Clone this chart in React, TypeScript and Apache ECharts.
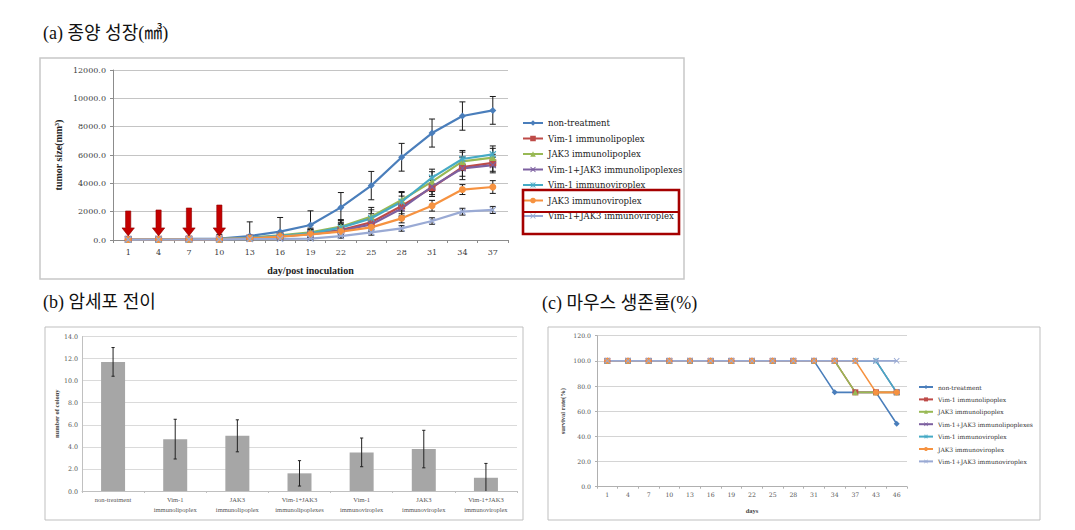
import React, { useEffect, useRef } from 'react';
import * as echarts from 'echarts';

// ---------- shared ----------
const seriesNames = [
  'non-treatment',
  'Vim-1 immunolipoplex',
  'JAK3 immunolipoplex',
  'Vim-1+JAK3 immunolipoplexes',
  'Vim-1 immunoviroplex',
  'JAK3 immunoviroplex',
  'Vim-1+JAK3 immunoviroplex',
];
const seriesColors = ['#4A7EBB', '#BE4B48', '#98B954', '#7D60A0', '#46AAC5', '#F69240', '#9AAAD4'];

// ---------- (a) tumor growth ----------
const tumorDays = ['1', '4', '7', '10', '13', '16', '19', '22', '25', '28', '31', '34', '37'];
const tumorNonTreatment = [60, 70, 80, 100, 280, 590, 1060, 2300, 3840, 5840, 7550, 8750, 9150];
const tumorNonTreatmentErr = [120, 150, 180, 300, 1000, 1000, 1000, 1050, 1000, 980, 990, 1000, 980];
const tumorVim1Lipo = [50, 55, 60, 70, 140, 280, 450, 700, 1250, 2400, 3700, 5150, 5450];
const tumorVim1LipoErr = [40, 50, 60, 80, 150, 200, 280, 450, 600, 700, 500, 650, 600];
const tumorJak3Lipo = [50, 55, 60, 75, 160, 330, 540, 940, 1650, 2820, 4120, 5550, 5820];
const tumorJak3LipoErr = [40, 50, 60, 80, 150, 220, 300, 500, 650, 600, 700, 650, 650];
const tumorVimJakLipo = [50, 55, 60, 70, 130, 260, 420, 640, 1100, 2230, 3770, 5060, 5290];
const tumorVimJakLipoErr = [40, 50, 60, 80, 150, 200, 280, 450, 550, 600, 700, 800, 550];
const tumorVim1Viro = [50, 55, 60, 75, 150, 290, 470, 870, 1530, 2700, 4400, 5720, 6050];
const tumorVim1ViroErr = [40, 50, 60, 80, 150, 200, 300, 500, 600, 650, 600, 600, 590];
const tumorJak3Viro = [40, 45, 50, 60, 120, 240, 400, 590, 890, 1530, 2420, 3560, 3740];
const tumorJak3ViroErr = [30, 40, 50, 60, 100, 150, 200, 250, 300, 320, 380, 350, 450];
const tumorVimJakViro = [30, 35, 40, 50, 70, 80, 100, 280, 540, 820, 1340, 2000, 2120];
const tumorVimJakViroErr = [20, 25, 30, 40, 60, 80, 100, 150, 200, 200, 230, 240, 250];
const tumorYTicks = [0, 2000, 4000, 6000, 8000, 10000, 12000];
const arrowDays = ['1', '4', '7', '10'];
const arrowTopValues = [2050, 2120, 2260, 2470];
const arrowTipValues = [290, 290, 290, 290];

// ---------- (b) metastasis ----------
const colonyCategories = [
  'non-treatment',
  'Vim-1\nimmunolipoplex',
  'JAK3\nimmunolipoplex',
  'Vim-1+JAK3\nimmunolipoplexes',
  'Vim-1\nimmunoviroplex',
  'JAK3\nimmunoviroplex',
  'Vim-1+JAK3\nimmunoviroplex',
];
const colonyValues = [11.7, 4.7, 5.0, 1.6, 3.5, 3.8, 1.2];
const colonyErrors = [1.3, 1.8, 1.45, 1.15, 1.3, 1.7, 1.3];
const colonyYTicks = [0, 2, 4, 6, 8, 10, 12, 14];

// ---------- (c) survival ----------
const survivalDays = ['1', '4', '7', '10', '13', '16', '19', '22', '25', '28', '31', '34', '37', '43', '46'];
const survNonTreatment = [100, 100, 100, 100, 100, 100, 100, 100, 100, 100, 100, 75, 75, 75, 50];
const survVim1Lipo = [100, 100, 100, 100, 100, 100, 100, 100, 100, 100, 100, 100, 75, 75, 75];
const survJak3Lipo = [100, 100, 100, 100, 100, 100, 100, 100, 100, 100, 100, 100, 75, 75, 75];
const survVimJakLipo = [100, 100, 100, 100, 100, 100, 100, 100, 100, 100, 100, 100, 100, 100, 75];
const survVim1Viro = [100, 100, 100, 100, 100, 100, 100, 100, 100, 100, 100, 100, 100, 100, 75];
const survJak3Viro = [100, 100, 100, 100, 100, 100, 100, 100, 100, 100, 100, 100, 100, 75, 75];
const survVimJakViro = [100, 100, 100, 100, 100, 100, 100, 100, 100, 100, 100, 100, 100, 100, 100];
const survivalYTicks = [0, 20, 40, 60, 80, 100, 120];

const X_PATH = 'path://M0,1.2L1.2,0L5,3.8L8.8,0L10,1.2L6.2,5L10,8.8L8.8,10L5,6.2L1.2,10L0,8.8L3.8,5Z';
const STAR_PATH = 'path://M0,1.2L1.2,0L4.4,3.2V0H5.6V3.2L8.8,0L10,1.2L6.2,5L10,8.8L8.8,10L5.6,6.8V10H4.4V6.8L1.2,10L0,8.8L3.8,5Z';
const seriesSymbols = ['diamond', 'rect', 'triangle', X_PATH, STAR_PATH, 'circle', X_PATH];

const SERIF = "'DejaVu Serif', 'Liberation Serif', serif";
const TNR = "'Liberation Serif', serif";
const KR = "'Liberation Serif', 'Noto Sans CJK KR', sans-serif";

function errorRenderer(capHalf: number, color: string) {
  return (params: any, api: any) => {
    const x = api.value(0);
    const v = api.value(1);
    const e = api.value(2);
    const lo = Math.max(0, v - e);
    const hi = v + e;
    const pHi = api.coord([x, hi]);
    const pLo = api.coord([x, lo]);
    const style = { stroke: color, lineWidth: 1 };
    const children: any[] = [
      { type: 'line', shape: { x1: pHi[0], y1: pHi[1], x2: pLo[0], y2: pLo[1] }, style },
      { type: 'line', shape: { x1: pHi[0] - capHalf, y1: pHi[1], x2: pHi[0] + capHalf, y2: pHi[1] }, style },
    ];
    if (v - e >= 0) {
      children.push({ type: 'line', shape: { x1: pLo[0] - capHalf, y1: pLo[1], x2: pLo[0] + capHalf, y2: pLo[1] }, style });
    }
    return { type: 'group', children };
  };
}

function arrowRenderer(params: any, api: any) {
  const x = api.value(0);
  const pTop = api.coord([x, api.value(1)]);
  const pTip = api.coord([x, api.value(2)]);
  const cx = pTop[0];
  const hw = 2.6;
  const headHw = 6.2;
  const headH = 8;
  const yT = pTop[1];
  const yP = pTip[1];
  return {
    type: 'polygon',
    shape: {
      points: [
        [cx - hw, yT], [cx + hw, yT], [cx + hw, yP - headH], [cx + headHw, yP - headH],
        [cx, yP], [cx - headHw, yP - headH], [cx - hw, yP - headH],
      ],
    },
    style: { fill: '#C40000', stroke: '#8E0000', lineWidth: 0.6 },
  };
}

function buildOption(): any {
  const tumorData = [tumorNonTreatment, tumorVim1Lipo, tumorJak3Lipo, tumorVimJakLipo, tumorVim1Viro, tumorJak3Viro, tumorVimJakViro];
  const tumorErr = [tumorNonTreatmentErr, tumorVim1LipoErr, tumorJak3LipoErr, tumorVimJakLipoErr, tumorVim1ViroErr, tumorJak3ViroErr, tumorVimJakViroErr];
  const survData = [survNonTreatment, survVim1Lipo, survJak3Lipo, survVimJakLipo, survVim1Viro, survJak3Viro, survVimJakViro];

  const tumorErrPoints: any[] = [];
  tumorData.forEach((arr, s) => arr.forEach((v, i) => tumorErrPoints.push([tumorDays[i], v, tumorErr[s][i]])));
  const colonyErrPoints = colonyValues.map((v, i) => [colonyCategories[i], v, colonyErrors[i]]);
  const arrowPoints = arrowDays.map((d, i) => [d, arrowTopValues[i], arrowTipValues[i]]);

  const series: any[] = [];
  seriesNames.forEach((name, i) => {
    series.push({
      type: 'line', name, xAxisIndex: 0, yAxisIndex: 0, data: tumorData[i],
      symbol: seriesSymbols[i], symbolSize: 7, showSymbol: true,
      lineStyle: { color: seriesColors[i], width: 2.2 },
      itemStyle: { color: seriesColors[i] },
    });
  });
  series.push({
    type: 'custom', name: 'errA', xAxisIndex: 0, yAxisIndex: 0, data: tumorErrPoints,
    encode: { x: 0, y: 1 }, renderItem: errorRenderer(3, '#1a1a1a'), z: 3, silent: true,
  });
  series.push({
    type: 'custom', name: 'arrows', xAxisIndex: 0, yAxisIndex: 0, data: arrowPoints,
    encode: { x: 0, y: 1 }, renderItem: arrowRenderer, z: 5, silent: true,
  });
  series.push({
    type: 'bar', name: 'colony', xAxisIndex: 1, yAxisIndex: 1, data: colonyValues,
    barWidth: 24, itemStyle: { color: '#A6A6A6' },
  });
  series.push({
    type: 'custom', name: 'errB', xAxisIndex: 1, yAxisIndex: 1, data: colonyErrPoints,
    encode: { x: 0, y: 1 }, renderItem: errorRenderer(1.6, '#222'), z: 3, silent: true,
  });
  seriesNames.forEach((name, i) => {
    series.push({
      type: 'line', name, xAxisIndex: 2, yAxisIndex: 2, data: survData[i],
      symbol: seriesSymbols[i], symbolSize: 6, showSymbol: true,
      lineStyle: { color: seriesColors[i], width: 1.6 },
      itemStyle: { color: seriesColors[i] },
    });
  });

  const axisLabelBase = { fontFamily: SERIF, color: '#404040' };

  return {
    animation: false,
    backgroundColor: '#ffffff',
    textStyle: { fontFamily: SERIF },
    graphic: [
      { type: 'rect', shape: { x: 40, y: 58, width: 644, height: 221 }, style: { fill: 'none', stroke: '#c8c8c8', lineWidth: 1.5 }, z: 0 },
      { type: 'rect', shape: { x: 45, y: 327, width: 478, height: 193 }, style: { fill: 'none', stroke: '#bfbfbf', lineWidth: 1 }, z: 0 },
      { type: 'rect', shape: { x: 548, y: 327, width: 492, height: 193 }, style: { fill: 'none', stroke: '#bfbfbf', lineWidth: 1 }, z: 0 },
      { type: 'text', x: 43, y: 33, style: { text: '(a) 종양 성장(㎣)', fontSize: 18, fontFamily: KR, fill: '#111', verticalAlign: 'middle' } },
      { type: 'text', x: 43, y: 302, style: { text: '(b) 암세포 전이', fontSize: 18, fontFamily: KR, fill: '#111', verticalAlign: 'middle' } },
      { type: 'text', x: 542, y: 303, style: { text: '(c) 마우스 생존률(%)', fontSize: 18, fontFamily: KR, fill: '#111', verticalAlign: 'middle' } },
      { type: 'rect', shape: { x: 523, y: 190, width: 156, height: 44 }, style: { fill: 'none', stroke: '#A50000', lineWidth: 2.6 }, z: 100 },
      { type: 'line', shape: { x1: 523, y1: 212, x2: 679, y2: 212 }, style: { stroke: '#A50000', lineWidth: 2.2 }, z: 100 },
    ],
    legend: [
      {
        data: seriesNames, orient: 'vertical', left: 522, top: 118, padding: 0,
        itemWidth: 20, itemHeight: 7, itemGap: 5.5,
        textStyle: { fontFamily: SERIF, fontSize: 8.5, lineHeight: 10, color: '#222' },
        selectedMode: false,
      },
      {
        data: seriesNames, orient: 'vertical', left: 918, top: 383, padding: 0,
        itemWidth: 14, itemHeight: 5, itemGap: 4.4,
        textStyle: { fontFamily: SERIF, fontSize: 6, lineHeight: 8, color: '#333' },
        selectedMode: false,
      },
    ],
    grid: [
      { left: 113, top: 70, width: 395, height: 170, containLabel: false },
      { left: 82, top: 336.5, width: 435, height: 154.5, containLabel: false },
      { left: 597, top: 335.7, width: 310, height: 151, containLabel: false },
    ],
    xAxis: [
      {
        type: 'category', gridIndex: 0, data: tumorDays, boundaryGap: true,
        name: 'day/post inoculation', nameLocation: 'middle', nameGap: 25,
        nameTextStyle: { fontFamily: TNR, fontWeight: 'bold', fontSize: 10, color: '#222' },
        axisLine: { lineStyle: { color: '#8c8c8c', width: 1 } },
        axisTick: { show: true, alignWithLabel: false, length: 3, lineStyle: { color: '#8c8c8c' } },
        axisLabel: { ...axisLabelBase, fontSize: 8, margin: 8, interval: 0 },
      },
      {
        type: 'category', gridIndex: 1, data: colonyCategories, boundaryGap: true,
        axisLine: { lineStyle: { color: '#c0c0c0', width: 1 } },
        axisTick: { show: true, alignWithLabel: false, length: 2, lineStyle: { color: '#c0c0c0' } },
        axisLabel: { fontFamily: TNR, color: '#555', fontSize: 6.5, lineHeight: 9.5, margin: 4, interval: 0 },
      },
      {
        type: 'category', gridIndex: 2, data: survivalDays, boundaryGap: true,
        name: 'days', nameLocation: 'middle', nameGap: 20,
        nameTextStyle: { fontFamily: TNR, fontWeight: 'bold', fontSize: 6.5, color: '#444' },
        axisLine: { lineStyle: { color: '#b0b0b0', width: 1 } },
        axisTick: { show: true, alignWithLabel: false, length: 2, lineStyle: { color: '#b0b0b0' } },
        axisLabel: { ...axisLabelBase, color: '#555', fontSize: 6.2, margin: 5, interval: 0 },
      },
    ],
    yAxis: [
      {
        type: 'value', gridIndex: 0, min: tumorYTicks[0], max: tumorYTicks[tumorYTicks.length - 1], interval: 2000,
        name: 'tumor size(mm³)', nameLocation: 'middle', nameGap: 50,
        nameTextStyle: { fontFamily: TNR, fontWeight: 'bold', fontSize: 10, color: '#222' },
        axisLine: { show: true, lineStyle: { color: '#8c8c8c' } },
        axisTick: { show: true, length: 3, lineStyle: { color: '#8c8c8c' } },
        splitLine: { lineStyle: { color: '#c4c4c4', width: 1.2 } },
        axisLabel: { ...axisLabelBase, fontSize: 8, margin: 7, formatter: (v: number) => v.toFixed(1) },
      },
      {
        type: 'value', gridIndex: 1, min: colonyYTicks[0], max: colonyYTicks[colonyYTicks.length - 1], interval: 2,
        name: 'number of colony', nameLocation: 'middle', nameGap: 21,
        nameTextStyle: { fontFamily: TNR, fontWeight: 'bold', fontSize: 6.5, color: '#444' },
        axisLine: { show: true, lineStyle: { color: '#c0c0c0' } },
        axisTick: { show: false },
        splitLine: { lineStyle: { color: '#dadada', width: 1 } },
        axisLabel: { ...axisLabelBase, color: '#555', fontSize: 6.3, margin: 4, formatter: (v: number) => v.toFixed(1) },
      },
      {
        type: 'value', gridIndex: 2, min: survivalYTicks[0], max: survivalYTicks[survivalYTicks.length - 1], interval: 20,
        name: 'survival rate(%)', nameLocation: 'middle', nameGap: 31,
        nameTextStyle: { fontFamily: TNR, fontWeight: 'bold', fontSize: 6.5, color: '#444' },
        axisLine: { show: true, lineStyle: { color: '#b0b0b0' } },
        axisTick: { show: true, length: 2, lineStyle: { color: '#b0b0b0' } },
        splitLine: { lineStyle: { color: '#d4d4d4', width: 1 } },
        axisLabel: { ...axisLabelBase, color: '#555', fontSize: 6.2, margin: 6, formatter: (v: number) => v.toFixed(1) },
      },
    ],
    series,
  };
}

export default function App() {
  const ref = useRef<HTMLDivElement>(null);
  useEffect(() => {
    if (!ref.current) return;
    const chart = echarts.init(ref.current, null, { renderer: 'svg' });
    chart.setOption(buildOption());
    return () => chart.dispose();
  }, []);
  return (
    <div
      ref={ref}
      style={{ position: 'absolute', left: 0, top: 0, width: 1075, height: 530, background: '#fff' }}
    />
  );
}
